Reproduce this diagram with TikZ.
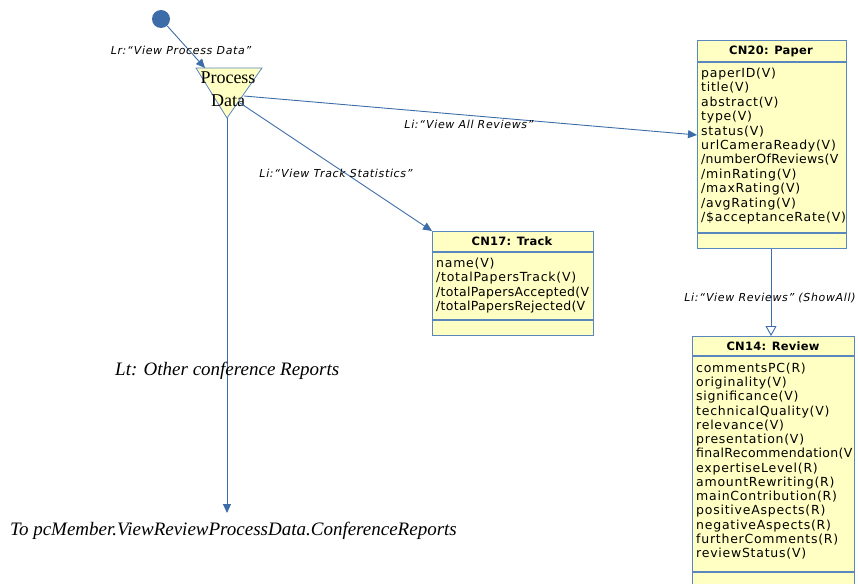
\documentclass[tikz,border=0pt]{standalone}
\usepackage{fontspec}
\setmainfont{Liberation Serif}
\newfontfamily\vfont[LetterSpace=6]{DejaVu Sans}
\newfontfamily\vnfont[LetterSpace=2.5]{DejaVu Sans}
\newfontfamily\vtfont[LetterSpace=2]{DejaVu Sans}
\usetikzlibrary{arrows.meta}
\definecolor{lineblue}{HTML}{3D6DA8}
\definecolor{boxblue}{HTML}{5A86BE}
\definecolor{boxfill}{HTML}{FFFFC4}
\tikzset{
  conn/.style={draw=lineblue, line width=0.9pt, -{Triangle[length=9pt,width=8pt]}},
  umlbox/.style={draw=boxblue, line width=1pt, fill=boxfill, anchor=north west, inner sep=0pt},
  sepline/.style={draw=boxblue, line width=1.2pt},
  titletext/.style={font=\vtfont\bfseries\fontsize{11.5}{12}\selectfont, inner sep=0pt},
  attr/.style={font=\vfont\fontsize{12.5}{12}\selectfont, anchor=base west, inner sep=0pt},
  attrn/.style={font=\vnfont\fontsize{12.5}{12}\selectfont, anchor=base west, inner sep=0pt},
  lbl/.style={font=\vfont\itshape\fontsize{11}{11}\selectfont, inner sep=0pt},
  serifit/.style={font=\itshape\fontsize{19}{20}\selectfont, inner sep=0pt},
}
\begin{document}
\begin{tikzpicture}[x=1pt,y=-1pt]
\useasboundingbox (0,0) rectangle (858,583);

% start dot
\node[circle, fill=lineblue, minimum size=18pt, inner sep=0pt] (start) at (161,19) {};

% Process Data triangle
\coordinate (pdl) at (196,68);
\coordinate (pdr) at (262,68);
\coordinate (pdb) at (227,118);
\fill[boxfill] (pdl) -- (pdr) -- (pdb) -- cycle;
\draw[boxblue, line width=0.8pt] (pdl) -- (pdr) -- (pdb) -- cycle;
\node[font=\fontsize{18}{23}\selectfont, align=center, inner sep=0pt] (pd) at (228,89) {Process\\Data};
\coordinate (pdtop) at (205,68);
\coordinate (pdA) at (244,96);
\coordinate (pdB) at (240,103);

% Paper box
\node[umlbox, minimum width=149pt, minimum height=208pt] (paper) at (697,40) {};
\node[titletext] (papert) at (771,51) {CN20: Paper};
\draw[sepline] (697,62) -- (846,62);
\draw[sepline] (697,233) -- (846,233);
\foreach \t [count=\i] in {paperID(V),title(V),abstract(V),type(V),status(V),urlCameraReady(V)}
  \node[attr] (pa\i) at (701,{77.5+14.4*(\i-1)}) {\t};
\node[attrn] (pa7) at (701,{77.5+14.4*6}) {/numberOfReviews(V};
\foreach \t [count=\i from 8] in {/minRating(V),/maxRating(V),/avgRating(V),/\$acceptanceRate(V)}
  \node[attr] (pa\i) at (701,{77.5+14.4*(\i-1)}) {\t};

% Track box
\node[umlbox, minimum width=161pt, minimum height=104pt] (track) at (432,231) {};
\node[titletext] (trackt) at (512,241) {CN17: Track};
\draw[sepline] (432,252) -- (593,252);
\draw[sepline] (432,320) -- (593,320);
\node[attr] (ta1) at (436,267.5) {name(V)};
\node[attr] (ta2) at (436,281.8) {/totalPapersTrack(V)};
\node[attrn] (ta3) at (436,296.1) {/totalPapersAccepted(V};
\node[attrn] (ta4) at (436,310.4) {/totalPapersRejected(V};

% Review box
\node[umlbox, minimum width=162pt, minimum height=260pt] (review) at (692,336) {};
\node[titletext] (reviewt) at (773,346) {CN14: Review};
\draw[sepline] (692,356) -- (854,356);
\draw[sepline] (692,572) -- (854,572);
\foreach \t [count=\i] in {commentsPC(R),originality(V),significance(V),technicalQuality(V),relevance(V),presentation(V)}
  \node[attr] (ra\i) at (696,{372.5+14.23*(\i-1)}) {\t};
\node[attrn] (ra7) at (696,{372.5+14.23*6}) {finalRecommendation(V};
\foreach \t [count=\i from 8] in {expertiseLevel(R),amountRewriting(R),mainContribution(R),positiveAspects(R),negativeAspects(R),furtherComments(R),reviewStatus(V)}
  \node[attr] (ra\i) at (696,{372.5+14.23*(\i-1)}) {\t};

% end point
\coordinate (endpt) at (227,513);

% connectors
\draw[conn] (start) -- (pdtop);
\draw[conn] (pdA) -- (paper.west |- 0,135);
\draw[conn] (pdB) -- (track.north west);
\draw[conn] (pdb) -- (endpt);
\draw[draw=lineblue, line width=0.9pt, -{Triangle[open,length=10pt,width=11pt,fill=white]}] (paper.south -| 771,0) -- (review.north -| 771,0);

% labels
\node[lbl] (l1) at (181,50) {Lr:“View Process Data”};
\node[lbl] (l2) at (469,124) {Li:“View All Reviews”};
\node[lbl] (l3) at (336,173) {Li:“View Track Statistics”};
\node[lbl] (l4) at (770,298) {Li:“View Reviews” (ShowAll)};
\node[serifit, anchor=west] (l5) at (115,371) {Lt: Other conference Reports};
\node[serifit, anchor=west] (l6) at (10,531) {To pcMember.ViewReviewProcessData.ConferenceReports};
\end{tikzpicture}
\end{document}
